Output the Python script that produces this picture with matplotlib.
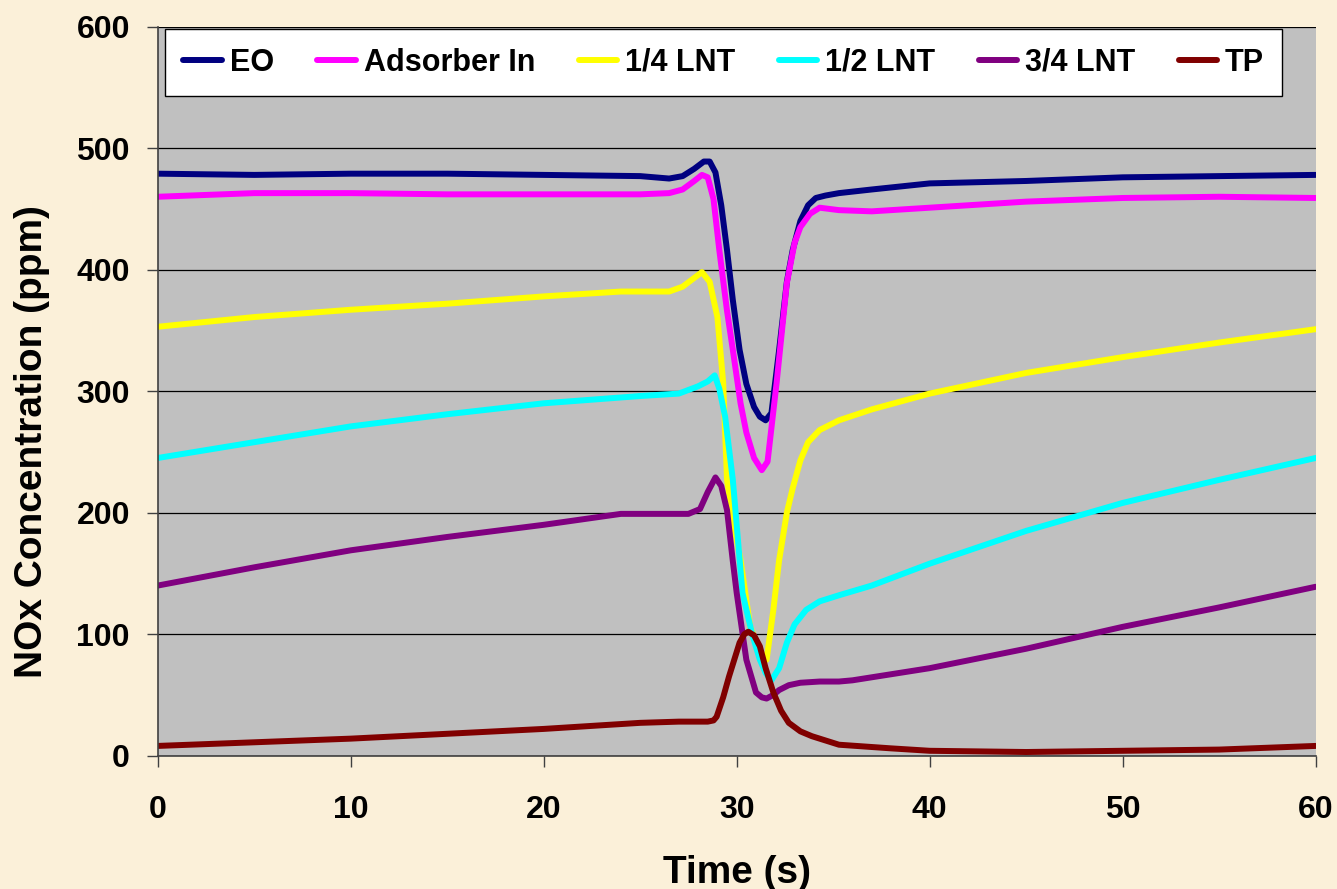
import matplotlib.pyplot as plt

# series (time in s, NOx in ppm)
eo_t = [0, 5, 10, 15, 20, 25, 26.5, 27.2, 27.8, 28.3, 28.6, 28.9, 29.2, 29.5, 29.8, 30.15, 30.5, 30.9, 31.2, 31.5, 31.8, 32.2, 32.6, 32.9, 33.3, 33.7, 34.1, 34.6, 35.3, 37, 40, 45, 50, 55, 60]
eo_y = [479, 478, 479, 479, 478, 477, 475, 477, 483, 489, 489, 480, 453, 416, 375, 334, 306, 287, 279, 276, 282, 334, 390, 416, 440, 453, 459, 461, 463, 466, 471, 473, 476, 477, 478]

ads_t = [0, 5, 10, 15, 20, 25, 26.5, 27.2, 27.8, 28.2, 28.5, 28.8, 29.1, 29.5, 29.8, 30.2, 30.5, 30.9, 31.3, 31.6, 32.07, 32.6, 33.0, 33.3, 33.8, 34.3, 35.3, 37, 40, 45, 50, 55, 60]
ads_y = [460, 463, 463, 462, 462, 462, 463, 466, 473, 478, 476, 458, 416, 366, 334, 290, 266, 245, 235, 242, 307, 389, 422, 435, 446, 451, 449, 448, 451, 456, 459, 460, 459]

q1_t = [0, 5, 10, 15, 20, 24, 26.5, 27.2, 27.7, 28.2, 28.6, 29.0, 29.3, 29.5, 29.8, 30.2, 30.7, 31.2, 31.55, 31.9, 32.2, 32.6, 32.9, 33.3, 33.7, 34.3, 35.3, 37, 40, 45, 50, 55, 60]
q1_y = [353, 361, 367, 372, 378, 382, 382, 386, 392, 398, 390, 361, 307, 227, 195, 161, 106, 86, 79, 120, 161, 200, 220, 243, 258, 268, 276, 285, 298, 315, 328, 340, 351]

q2_t = [0, 5, 10, 15, 20, 25, 27, 28, 28.5, 28.86, 29.1, 29.4, 29.8, 30.3, 30.8, 31.2, 31.5, 31.8, 32.2, 32.6, 33.0, 33.6, 34.3, 35.3, 37, 40, 45, 50, 55, 60]
q2_y = [245, 258, 271, 281, 290, 296, 298, 304, 308, 313, 302, 279, 227, 134, 100, 79, 68, 62, 72, 93, 108, 120, 127, 132, 140, 158, 185, 208, 227, 245]

q3_t = [0, 5, 10, 15, 20, 24, 26, 27.5, 28.1, 28.5, 28.9, 29.2, 29.5, 29.8, 30.0, 30.5, 31.0, 31.3, 31.55, 31.9, 32.2, 32.7, 33.3, 34.3, 35.3, 36, 40, 45, 50, 55, 60]
q3_y = [140, 155, 169, 180, 190, 199, 199, 199, 203, 217, 229, 222, 202, 160, 134, 79, 52, 48, 47, 50, 54, 58, 60, 61, 61, 62, 72, 88, 106, 122, 139]

tp_t = [0, 10, 20, 25, 27, 28.5, 28.8, 28.96, 29.3, 29.6, 30.15, 30.4, 30.6, 30.9, 31.2, 31.5, 31.9, 32.3, 32.7, 33.3, 33.9, 35.3, 38, 40, 45, 50, 55, 60]
tp_y = [8, 14, 22, 27, 28, 28, 29, 32, 48, 65, 93, 100, 102, 99, 90, 72, 52, 37, 27, 20, 16, 9, 6, 4, 3, 4, 5, 8]

series = [
    ("EO", eo_t, eo_y, "#000080"),
    ("Adsorber In", ads_t, ads_y, "#FF00FF"),
    ("1/4 LNT", q1_t, q1_y, "#FFFF00"),
    ("1/2 LNT", q2_t, q2_y, "#00FFFF"),
    ("3/4 LNT", q3_t, q3_y, "#800080"),
    ("TP", tp_t, tp_y, "#800000"),
]

plt.rcParams["font.family"] = ["Liberation Sans", "DejaVu Sans"]
plt.rcParams["font.weight"] = "bold"

fig = plt.figure(figsize=(13.37, 8.89), dpi=100, facecolor="#FBF0D9")
ax = fig.add_axes([0.118, 0.150, 0.866, 0.820])
ax.set_facecolor("#C0C0C0")

for label, t, y, color in series:
    ax.plot(t, y, color=color, lw=4.3, label=label, solid_capstyle="round", solid_joinstyle="round")

ax.set_xlim(0, 60)
ax.set_ylim(0, 600)
ax.set_xticks(range(0, 61, 10))
ax.set_yticks(range(0, 601, 100))
ax.yaxis.grid(True, color="black", lw=0.9)
ax.set_axisbelow(True)
ax.tick_params(labelsize=23, length=8, width=1, color="#404040")
ax.tick_params(axis="x", pad=20)
ax.tick_params(axis="y", pad=12)
for lbl in ax.get_xticklabels() + ax.get_yticklabels():
    lbl.set_fontweight("bold")

for side in ("top", "right"):
    ax.spines[side].set_visible(False)
for side in ("left", "bottom"):
    ax.spines[side].set_color("#404040")
    ax.spines[side].set_linewidth(1.2)

ax.set_xlabel("Time (s)", fontsize=28, fontweight="bold", labelpad=22)
ax.set_ylabel("NOx Concentration (ppm)", fontsize=28, fontweight="bold")
ax.yaxis.set_label_coords(-0.093, 0.431)

leg = ax.legend(
    loc="center",
    bbox_to_anchor=(0.4888, 0.9506),
    ncol=6,
    fontsize=22,
    frameon=True,
    fancybox=False,
    handlelength=1.25,
    handletextpad=0.27,
    columnspacing=1.42,
    borderpad=0.6,
)
leg.get_frame().set_edgecolor("black")
leg.get_frame().set_linewidth(1.0)
leg.get_frame().set_facecolor("white")
leg.get_frame().set_alpha(1)
for txt in leg.get_texts():
    txt.set_fontweight("bold")

fig.savefig("out.png", dpi=100, facecolor=fig.get_facecolor())
